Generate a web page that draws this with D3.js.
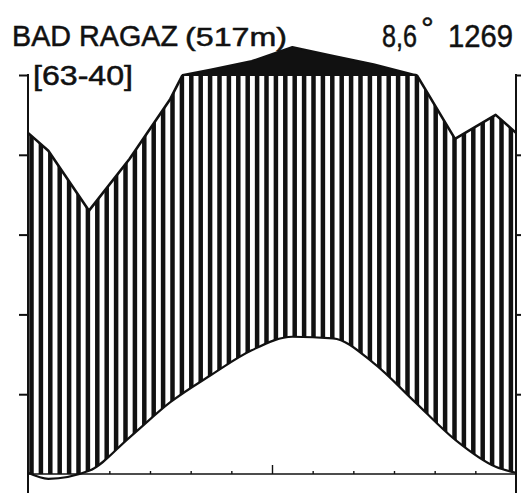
<!DOCTYPE html>
<html>
<head>
<meta charset="utf-8">
<script src="https://cdn.jsdelivr.net/npm/d3@7"></script>
<style>
  body { margin: 0; background: #fff; }
  text { font-family: "Liberation Sans", "DejaVu Sans", sans-serif; fill: #111; stroke: #111; stroke-width: 0.5; }
</style>
</head>
<body>
<div id="chart"></div>
<script>
// Climate data (monthly means)
const months = ["J", "F", "M", "A", "M", "J", "J", "A", "S", "O", "N", "D"];
const temperature = [-0.6, 0.4, 4.6, 9.0, 12.4, 15.5, 17.2, 17.0, 13.9, 9.1, 4.3, 0.9];
const precipitation = [81, 66, 79, 94, 114, 135, 170, 148, 127, 101, 84, 90];
const tempTicks = [10, 20, 30, 40, 50];
const monthTicks = [1, 2, 3, 4, 5, 6, 7, 8, 9, 10, 11];

const station = "BAD RAGAZ";
const elevation = "(517m)";
const years = "[63-40]";
const meanTemp = "8,6";
const annualPrec = "1269";

const width = 521, height = 493;
const left = 28, right = 516, base = 474, top100 = 75;

const svg = d3.select("#chart").append("svg")
  .attr("width", width)
  .attr("height", height)

// Scales: 10 °C = 20 mm, above 100 mm reduced to 1/10
const x = d3.scaleLinear().domain([0, 12]).range([left, right]);
const yT = d3.scaleLinear().domain([0, 50]).range([base, top100]);
const yP = d3.scaleLinear().domain([0, 100]).range([base, top100]);
const reducedStep = (yT(0) - yT(10)) / 200;
function yReduced(p) {
  return p <= 100 ? yP(p) : yP(100) - (p - 100) * reducedStep;
}

// Add edge points (Dec/Jan average) so curves reach the frame
const edgeT = (temperature[11] + temperature[0]) / 2;
const edgeP = (precipitation[11] + precipitation[0]) / 2;
const tPts = [[0, edgeT], ...temperature.map((v, i) => [i + 0.5, v]), [12, edgeT]];
const pPts = [[0, edgeP], ...precipitation.map((v, i) => [i + 0.5, v]), [12, edgeP]];

const defs = svg.append("defs");

// Region under precipitation line
defs.append("clipPath").attr("id", "underPrec")
  .append("path")
  .attr("d", d3.area().x(d => x(d[0])).y0(base + 20).y1(d => yP(d[1]))(pPts));

// Region above temperature line
defs.append("clipPath").attr("id", "aboveTemp")
  .append("path")
  .attr("d", d3.area().curve(d3.curveMonotoneX).x(d => x(d[0])).y0(d => yT(d[1])).y1(0)(tPts));

// Region below the 100 mm line
defs.append("clipPath").attr("id", "below100")
  .append("rect")
  .attr("x", 0).attr("y", top100).attr("width", width).attr("height", height);

// Vertical hatching (humid period)
const hatch = svg.append("g").attr("clip-path", "url(#underPrec)")
  .append("g").attr("clip-path", "url(#aboveTemp)");
hatch.selectAll("line")
  .data(d3.range(left + 3.5, right, 9.4))
  .enter()
  .append("line")
  .attr("x1", d => d).attr("x2", d => d)
  .attr("y1", top100).attr("y2", base)
  .attr("stroke", "#111")
  .attr("stroke-width", 4.5)

// Black area above 100 mm (reduced scale)
const black = [];
for (let i = 0; i < pPts.length - 1; i++) {
  const a = pPts[i], b = pPts[i + 1];
  if (a[1] > 100) black.push([x(a[0]), yReduced(a[1])]);
  if ((a[1] - 100) * (b[1] - 100) < 0) {
    const t = (100 - a[1]) / (b[1] - a[1]);
    black.push([x(a[0] + t * (b[0] - a[0])), yP(100)]);
  }
}
svg.append("path")
  .attr("d", d3.line()(black) + "Z")
  .attr("fill", "#111")
  .attr("stroke", "#111")
  .attr("stroke-width", 2)
  .attr("stroke-linejoin", "round")

// Precipitation line (unreduced part)
svg.append("path")
  .attr("clip-path", "url(#below100)")
  .attr("d", d3.line().x(d => x(d[0])).y(d => yP(d[1]))(pPts))
  .attr("fill", "none")
  .attr("stroke", "#111")
  .attr("stroke-width", 2.6)
  .attr("stroke-linejoin", "round")

// Temperature line
svg.append("path")
  .attr("d", d3.line().curve(d3.curveMonotoneX).x(d => x(d[0])).y(d => yT(d[1]))(tPts))
  .attr("fill", "none")
  .attr("stroke", "#111")
  .attr("stroke-width", 2.2)

// Left axis
svg.append("g")
  .attr("transform", `translate(${left},0)`)
  .call(d3.axisLeft(yT).tickValues(tempTicks).tickSize(9).tickFormat("").tickSizeOuter(0))
  .call(g => g.select(".domain").remove())
  .call(g => g.selectAll("line").attr("stroke", "#111").attr("stroke-width", 2))

// Right axis
svg.append("g")
  .attr("transform", `translate(${right},0)`)
  .call(d3.axisRight(yT).tickValues(tempTicks).tickSize(5).tickFormat("").tickSizeOuter(0))
  .call(g => g.select(".domain").remove())
  .call(g => g.selectAll("line").attr("stroke", "#111").attr("stroke-width", 2))

// Frame verticals, running down past the base line
svg.selectAll(".frame")
  .data([left, right])
  .enter()
  .append("line")
  .attr("class", "frame")
  .attr("x1", d => d).attr("x2", d => d)
  .attr("y1", top100 - 1).attr("y2", height)
  .attr("stroke", "#111")
  .attr("stroke-width", 2)

// Base line with month ticks
svg.append("g")
  .attr("transform", `translate(0,${base})`)
  .call(d3.axisTop(x).tickValues(monthTicks).tickSize(3).tickFormat("").tickSizeOuter(0))
  .call(g => g.select(".domain").attr("d", `M${left},0H${right}`).attr("stroke", "#111").attr("stroke-width", 1.6))
  .call(g => g.selectAll(".tick line").attr("stroke", "#111").attr("stroke-width", 1.4)
    .attr("y2", d => d === 6 ? -9 : -3))

// Title texts
svg.append("text").attr("x", 12).attr("y", 46).attr("font-size", 29)
  .attr("textLength", 166).attr("lengthAdjust", "spacingAndGlyphs").text(station)
svg.append("text").attr("x", 185).attr("y", 46).attr("font-size", 26)
  .attr("textLength", 102).attr("lengthAdjust", "spacingAndGlyphs").text(elevation)
svg.append("text").attr("x", 33).attr("y", 85).attr("font-size", 27)
  .attr("textLength", 100).attr("lengthAdjust", "spacingAndGlyphs").text(years)

// Mean temperature with degree sign, then annual precipitation
const meanText = svg.append("text").attr("x", 382).attr("y", 47).attr("font-size", 31)
  .style("font-family", "'Liberation Sans Narrow', 'Liberation Sans', sans-serif")
meanText.append("tspan").attr("textLength", 35).attr("lengthAdjust", "spacingAndGlyphs").text(meanTemp)
meanText.append("tspan").attr("dx", 4).attr("dy", -8).attr("font-size", 32)
  .style("font-family", "'Liberation Sans', sans-serif").text("°")
svg.append("text").attr("x", 448).attr("y", 47).attr("font-size", 31)
  .attr("textLength", 65).attr("lengthAdjust", "spacingAndGlyphs").text(annualPrec)
</script>
</body>
</html>
